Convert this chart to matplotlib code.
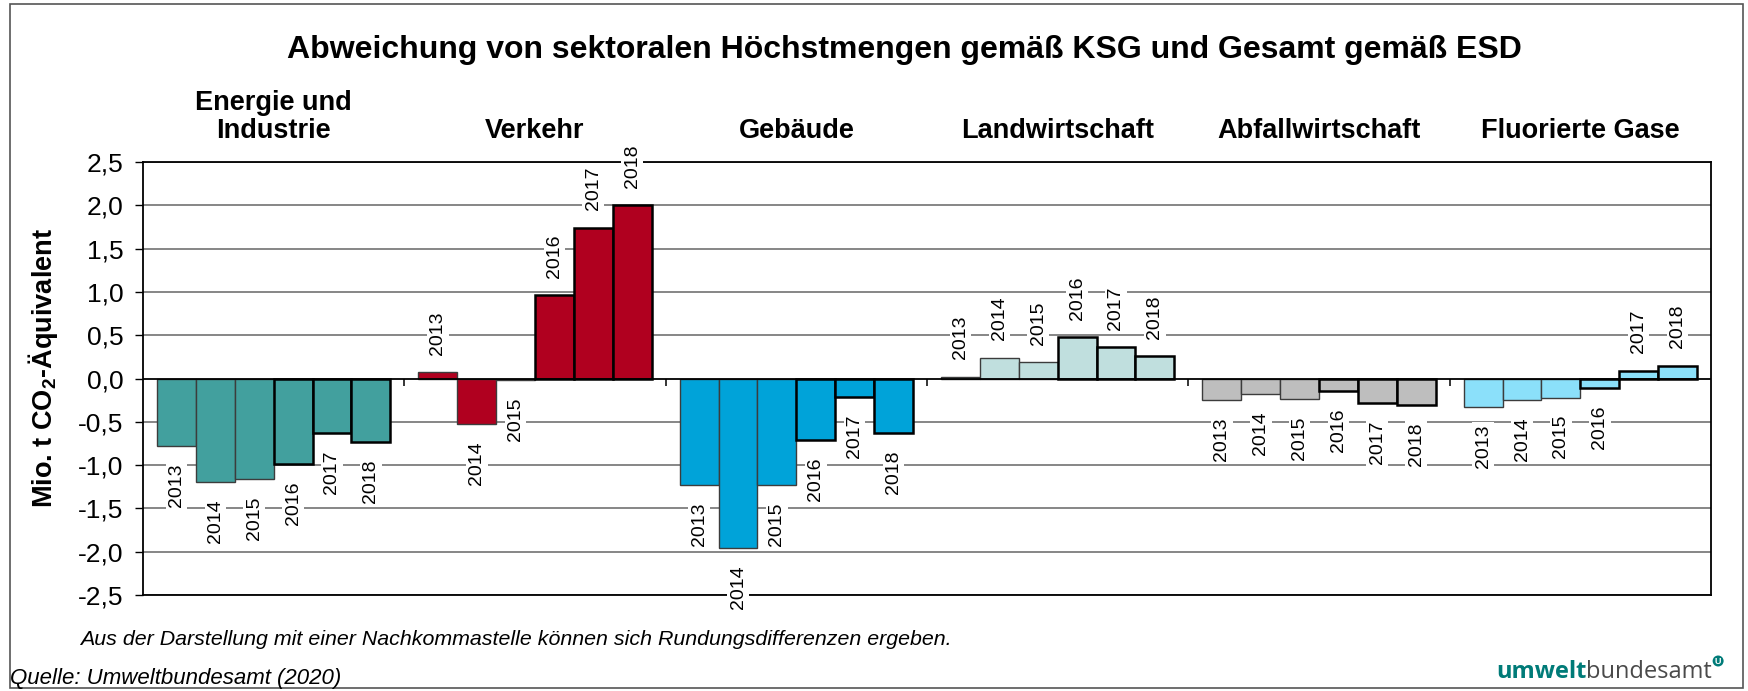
import numpy as np
import matplotlib
matplotlib.use("Agg")
import matplotlib.pyplot as plt
from matplotlib.patches import Rectangle, Circle
import matplotlib.transforms as mtransforms

plt.rcParams['font.family'] = ['Liberation Sans', 'DejaVu Sans']
plt.rcParams['mathtext.fontset'] = 'custom'
plt.rcParams['mathtext.rm'] = 'Liberation Sans'
plt.rcParams['mathtext.bf'] = 'Liberation Sans:bold'

# Daten (Mio. t CO2-Äquivalent)
sektoren = ["Energie und\nIndustrie", "Verkehr", "Gebäude", "Landwirtschaft",
            "Abfallwirtschaft", "Fluorierte Gase"]
jahre = ["2013", "2014", "2015", "2016", "2017", "2018"]
energie = [-0.78, -1.20, -1.16, -0.99, -0.63, -0.73]
verkehr = [0.07, -0.52, -0.02, 0.96, 1.74, 2.00]
gebaeude = [-1.23, -1.96, -1.23, -0.71, -0.21, -0.63]
landwirtschaft = [0.02, 0.24, 0.19, 0.48, 0.36, 0.26]
abfall = [-0.25, -0.18, -0.24, -0.15, -0.28, -0.31]
fgase = [-0.33, -0.25, -0.22, -0.11, 0.09, 0.15]
werte = [energie, verkehr, gebaeude, landwirtschaft, abfall, fgase]
farben = ["#42A09E", "#B0001F", "#00A3D9", "#C0DFDE", "#BEBEBE", "#8BE0FA"]
yticks = [2.5, 2.0, 1.5, 1.0, 0.5, 0.0, -0.5, -1.0, -1.5, -2.0, -2.5]

W, H = 1748, 691
fig = plt.figure(figsize=(W / 100, H / 100), dpi=100)
ax = fig.add_axes([143 / W, 1 - 595 / H, (1711 - 143) / W, (595 - 162) / H])

bw = 0.1486
for i, vals in enumerate(werte):
    for j, v in enumerate(vals):
        x = i + (j - 2.5) * bw
        if j < 3:
            ec, lw = "#3c3c3c", 1.0
        else:
            ec, lw = "black", 1.8
        ax.bar(x, v, width=bw, color=farben[i], edgecolor=ec, linewidth=lw, zorder=3)
        off = 12.5 if v >= 0 else -12.5
        ax.annotate(jahre[j], (x, v), xytext=(0, off), textcoords="offset points",
                    rotation=90, ha="center", va="bottom" if v >= 0 else "top",
                    fontsize=14, zorder=4,
                    bbox=dict(boxstyle="square,pad=0.12", fc="white", ec="none"))

for y in yticks:
    if y == 0:
        continue
    ax.axhline(y, color="#666666", lw=1.1, zorder=1)
ax.axhline(0, color="black", lw=1.3, zorder=5)
ax.vlines([0.5, 1.5, 2.5, 3.5, 4.5], -0.09, 0, color="black", lw=1.1, zorder=5)

ax.set_xlim(-0.5, 5.5)
ax.set_ylim(-2.5, 2.5)
ax.set_xticks([])
ax.set_yticks(yticks)
ax.set_yticklabels([f"{t:.1f}".replace(".", ",") for t in yticks], fontsize=19)
ax.tick_params(axis="y", length=6, width=1, pad=8)
for s in ax.spines.values():
    s.set_linewidth(1.3)

trans = mtransforms.blended_transform_factory(ax.transData, fig.transFigure)
for i, name in enumerate(sektoren):
    ax.text(i, 1 - 144 / H, name, transform=trans, ha="center", va="bottom",
            fontsize=19.5, fontweight="bold", linespacing=1.1)

fig.text(904 / W, 1 - 50 / H,
         "Abweichung von sektoralen Höchstmengen gemäß KSG und Gesamt gemäß ESD",
         ha="center", va="center", fontsize=23, fontweight="bold")
fig.text(43 / W, 1 - 368 / H, r"Mio. t CO$_\mathbf{2}$-Äquivalent", rotation=90,
         ha="center", va="center", fontsize=19.5, fontweight="bold")

fig.text(80 / W, 1 - 645 / H,
         "Aus der Darstellung mit einer Nachkommastelle können sich Rundungsdifferenzen ergeben.",
         ha="left", va="baseline", fontsize=15.4, style="italic")
fig.text(10 / W, 1 - 684 / H, "Quelle: Umweltbundesamt (2020)",
         ha="left", va="baseline", fontsize=16, style="italic")

# Logo
t1 = fig.text(1496 / W, 1 - 678 / H, "umwelt", ha="left", va="baseline",
              fontsize=17, fontweight="bold", color="#007B78", family="Open Sans")
fig.canvas.draw()
bb = t1.get_window_extent()
t2 = fig.text(bb.x1 / W, 1 - 678 / H, "bundesamt", ha="left", va="baseline",
              fontsize=17, color="#4a4a4a", family="Open Sans")
fig.canvas.draw()
bb2 = t2.get_window_extent()
cx = bb2.x1 + 6
cy = H - 661
fig.patches.append(Circle((cx / 100, cy / 100), 0.055,
                          transform=fig.dpi_scale_trans, fc="#007B78", ec="none"))
fig.text(cx / W, cy / H, "U", ha="center", va="center", fontsize=6.5,
         fontweight="bold", color="white")

fig.patches.append(Rectangle((10 / W, 3 / H), (1743 - 10) / W, (687 - 3) / H,
                             transform=fig.transFigure, fill=False, ec="#555555", lw=1.2))

fig.savefig("out.png", dpi=100)
